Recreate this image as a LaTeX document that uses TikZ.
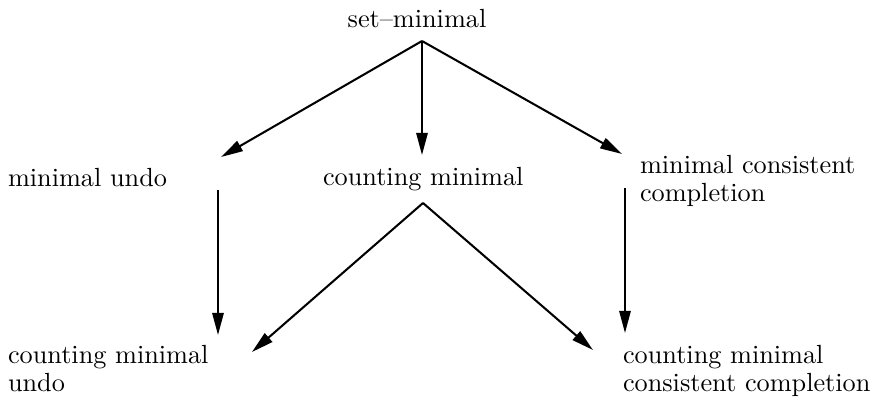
\documentclass[tikz,border=0pt]{standalone}
\usetikzlibrary{arrows.meta}
\begin{document}
\begin{tikzpicture}[x=0.381pt,y=-0.381pt,
  lbl/.style={inner sep=0pt, outer sep=0pt, align=left, font=\fontsize{10}{10.9}\selectfont},
  arr/.style={-{Triangle[length=8.4pt,width=4.3pt]}, line width=0.78pt}]
\useasboundingbox (0,0) rectangle (875,404);
% labels
\node[lbl, anchor=base] (sm) at (417,27) {set--minimal};
\node[lbl, anchor=base west] (mu) at (8,186) {minimal undo};
\node[lbl, anchor=base west] (cm) at (323,185) {counting minimal};
\node[lbl, anchor=north west] (mcc) at (640,155) {minimal consistent\\completion};
\node[lbl, anchor=north west] (cmu) at (8,345) {counting minimal\\undo};
\node[lbl, anchor=north west] (cmcc) at (623,345) {counting minimal\\consistent completion};
% connector end points
\coordinate (smA) at (422,41);
\coordinate (muT) at (221,157);
\coordinate (cmT) at (422,155);
\coordinate (mccT) at (622,154);
\coordinate (muB) at (218,190);
\coordinate (cmuT) at (218,335);
\coordinate (cmA) at (423,203);
\coordinate (cmuT2) at (252,352);
\coordinate (cmccT2) at (593,350);
\coordinate (mccB) at (625,188);
\coordinate (cmccT) at (625,333);
% connectors
\draw[arr] (smA) -- (muT);
\draw[arr] (smA) -- (cmT);
\draw[arr] (smA) -- (mccT);
\draw[arr] (muB) -- (cmuT);
\draw[arr] (cmA) -- (cmuT2);
\draw[arr] (cmA) -- (cmccT2);
\draw[arr] (mccB) -- (cmccT);
\end{tikzpicture}
\end{document}
